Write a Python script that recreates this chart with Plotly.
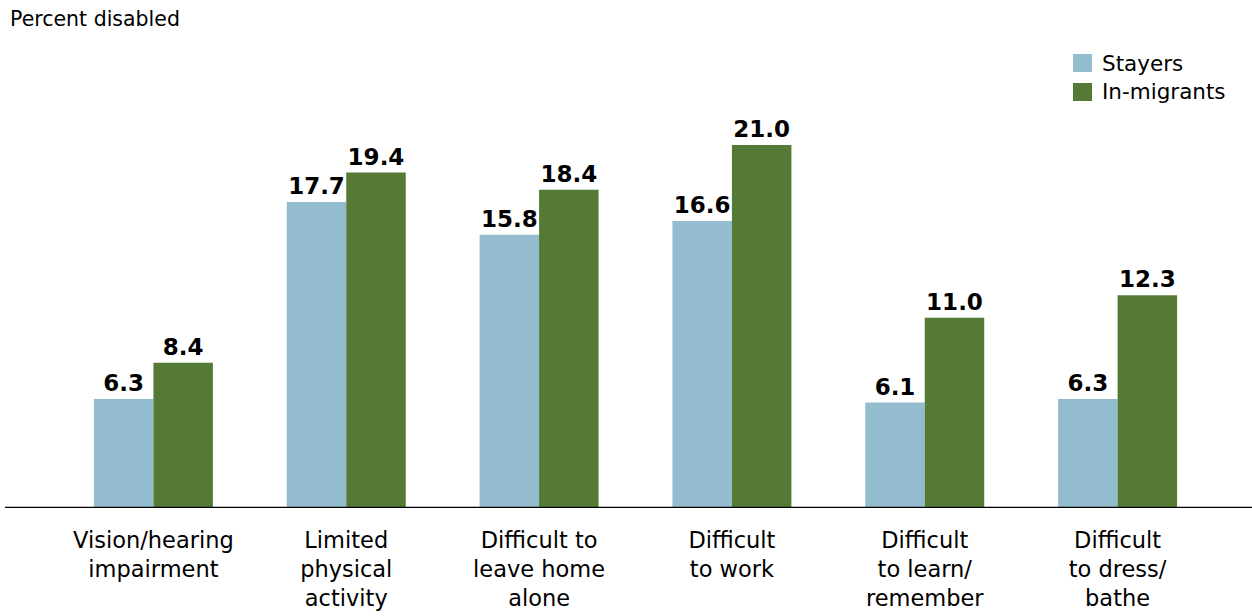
import plotly.graph_objects as go

categories = ["Vision/hearing<br>impairment", "Limited<br>physical<br>activity",
              "Difficult to<br>leave home<br>alone", "Difficult<br>to work",
              "Difficult<br>to learn/<br>remember", "Difficult<br>to dress/<br>bathe"]
stayers = [6.3, 17.7, 15.8, 16.6, 6.1, 6.3]
in_migrants = [8.4, 19.4, 18.4, 21.0, 11.0, 12.3]
series_names = ["Stayers", "In-migrants"]
colors = ["#94BCCF", "#547A36"]

FONT = "DejaVu Sans"

fig = go.Figure()
for name, vals, col in zip(series_names, [stayers, in_migrants], colors):
    fig.add_bar(x=categories, y=vals, name=name, marker_color=col,
                marker_line_width=0,
                text=[f"{v:.1f}" for v in vals], textposition="outside",
                textfont=dict(family=FONT, size=23, color="black"),
                texttemplate="<b>%{text}</b>", cliponaxis=False, showlegend=False)

fig.update_layout(
    width=1252, height=616,
    margin=dict(l=57, r=38, t=93, b=108, autoexpand=False),
    paper_bgcolor="white", plot_bgcolor="white",
    barmode="group", bargap=0.383, bargroupgap=0,
    font=dict(family=FONT, size=22.5, color="black"),
    xaxis=dict(showgrid=False, showline=False, ticks="", tickfont=dict(size=22.5),
               ticklabelstandoff=16, automargin=False),
    yaxis=dict(range=[0, 24], showgrid=False, showline=False, showticklabels=False,
               zeroline=False, automargin=False),
)
fig.add_shape(type="line", xref="paper", yref="y", x0=-0.045, x1=1.04, y0=0, y1=0,
              line=dict(color="black", width=2.5))

# legend drawn manually (paper coords)
ph = 616 - 93 - 108
pw = 1252 - 57 - 38
def px_x(x): return (x - 57) / pw
def px_y(y): return (616 - 108 - y) / ph
for i, (name, col) in enumerate(zip(series_names, colors)):
    yc = 63 + i * 29
    fig.add_shape(type="rect", xref="paper", yref="paper",
                  x0=px_x(1073), x1=px_x(1092), y0=px_y(yc - 9), y1=px_y(yc + 9),
                  fillcolor=col, line_width=0)
    fig.add_annotation(text=name, xref="paper", yref="paper", x=px_x(1100), y=px_y(yc),
                       xanchor="left", yanchor="middle", showarrow=False,
                       font=dict(family=FONT, size=21.5))

fig.add_annotation(text="Percent disabled", xref="paper", yref="paper",
                   x=px_x(8), y=px_y(5), xanchor="left", yanchor="top", showarrow=False,
                   font=dict(family=FONT, size=20.5))
fig.write_html("out.html")
